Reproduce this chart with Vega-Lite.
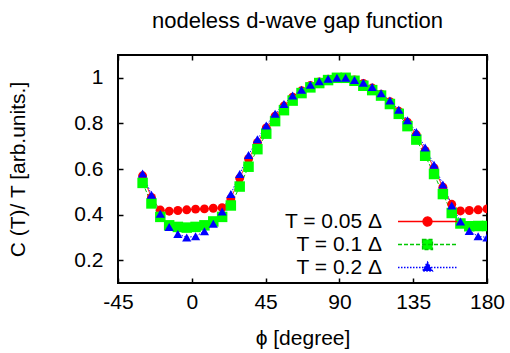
{
  "$schema": "https://vega.github.io/schema/vega-lite/v6.json",
  "autosize": "none",
  "width": 369,
  "height": 228,
  "padding": {"left": 118, "top": 55, "right": 23, "bottom": 70},
  "background": "white",
  "title": {"text": "nodeless d-wave gap function", "font": "Liberation Sans", "fontSize": 22, "fontWeight": "normal", "color": "black", "anchor": "middle", "baseline": "alphabetic", "offset": 4, "dx": -5},
  "config": {
    "view": {"stroke": "black", "strokeWidth": 2},
    "axis": {"domain": false, "grid": false, "labelFlush": false, "labelOverlap": false, "labelFont": "Liberation Sans", "labelFontSize": 21, "labelColor": "black", "titleFont": "Liberation Sans", "titleFontSize": 21, "titleFontWeight": "normal", "titleColor": "black", "tickColor": "black", "tickWidth": 1.5, "tickSize": -5},
    "legend": {
      "orient": "none", "legendX": 200, "legendY": 156, "padding": 0,
      "symbolSize": 100, "symbolOffset": 99, "labelOffset": -56, "labelAlign": "right", "rowPadding": 1,
      "labelFont": "Liberation Sans", "labelFontSize": 21, "labelColor": "black", "symbolStrokeWidth": 1.3, "symbolOpacity": 1
    }
  },
  "data": {"values": [
    {"phi": -30.0, "val": 0.57, "series": "T = 0.05 Δ"},
    {"phi": -24.6, "val": 0.475, "series": "T = 0.05 Δ"},
    {"phi": -19.2, "val": 0.42, "series": "T = 0.05 Δ"},
    {"phi": -13.8, "val": 0.415, "series": "T = 0.05 Δ"},
    {"phi": -8.5, "val": 0.418, "series": "T = 0.05 Δ"},
    {"phi": -3.1, "val": 0.421, "series": "T = 0.05 Δ"},
    {"phi": 2.3, "val": 0.424, "series": "T = 0.05 Δ"},
    {"phi": 7.7, "val": 0.425, "series": "T = 0.05 Δ"},
    {"phi": 13.1, "val": 0.428, "series": "T = 0.05 Δ"},
    {"phi": 18.5, "val": 0.43, "series": "T = 0.05 Δ"},
    {"phi": 23.8, "val": 0.47, "series": "T = 0.05 Δ"},
    {"phi": 29.2, "val": 0.56, "series": "T = 0.05 Δ"},
    {"phi": 34.6, "val": 0.645, "series": "T = 0.05 Δ"},
    {"phi": 40.0, "val": 0.715, "series": "T = 0.05 Δ"},
    {"phi": 45.4, "val": 0.78, "series": "T = 0.05 Δ"},
    {"phi": 50.8, "val": 0.832, "series": "T = 0.05 Δ"},
    {"phi": 56.2, "val": 0.876, "series": "T = 0.05 Δ"},
    {"phi": 61.5, "val": 0.915, "series": "T = 0.05 Δ"},
    {"phi": 66.9, "val": 0.943, "series": "T = 0.05 Δ"},
    {"phi": 72.3, "val": 0.966, "series": "T = 0.05 Δ"},
    {"phi": 77.7, "val": 0.982, "series": "T = 0.05 Δ"},
    {"phi": 83.1, "val": 0.994, "series": "T = 0.05 Δ"},
    {"phi": 88.5, "val": 1.0, "series": "T = 0.05 Δ"},
    {"phi": 93.8, "val": 1.0, "series": "T = 0.05 Δ"},
    {"phi": 99.2, "val": 0.99, "series": "T = 0.05 Δ"},
    {"phi": 104.6, "val": 0.975, "series": "T = 0.05 Δ"},
    {"phi": 110.0, "val": 0.955, "series": "T = 0.05 Δ"},
    {"phi": 115.4, "val": 0.928, "series": "T = 0.05 Δ"},
    {"phi": 120.8, "val": 0.895, "series": "T = 0.05 Δ"},
    {"phi": 126.2, "val": 0.853, "series": "T = 0.05 Δ"},
    {"phi": 131.5, "val": 0.805, "series": "T = 0.05 Δ"},
    {"phi": 136.9, "val": 0.75, "series": "T = 0.05 Δ"},
    {"phi": 142.3, "val": 0.68, "series": "T = 0.05 Δ"},
    {"phi": 147.7, "val": 0.605, "series": "T = 0.05 Δ"},
    {"phi": 153.1, "val": 0.52, "series": "T = 0.05 Δ"},
    {"phi": 158.5, "val": 0.445, "series": "T = 0.05 Δ"},
    {"phi": 163.8, "val": 0.416, "series": "T = 0.05 Δ"},
    {"phi": 169.2, "val": 0.418, "series": "T = 0.05 Δ"},
    {"phi": 174.6, "val": 0.421, "series": "T = 0.05 Δ"},
    {"phi": 180.0, "val": 0.425, "series": "T = 0.05 Δ"},
    {"phi": -30.0, "val": 0.539, "series": "T = 0.1 Δ"},
    {"phi": -24.6, "val": 0.449, "series": "T = 0.1 Δ"},
    {"phi": -19.2, "val": 0.39, "series": "T = 0.1 Δ"},
    {"phi": -13.8, "val": 0.353, "series": "T = 0.1 Δ"},
    {"phi": -8.5, "val": 0.346, "series": "T = 0.1 Δ"},
    {"phi": -3.1, "val": 0.343, "series": "T = 0.1 Δ"},
    {"phi": 2.3, "val": 0.346, "series": "T = 0.1 Δ"},
    {"phi": 7.7, "val": 0.353, "series": "T = 0.1 Δ"},
    {"phi": 13.1, "val": 0.37, "series": "T = 0.1 Δ"},
    {"phi": 18.5, "val": 0.39, "series": "T = 0.1 Δ"},
    {"phi": 23.8, "val": 0.44, "series": "T = 0.1 Δ"},
    {"phi": 29.2, "val": 0.523, "series": "T = 0.1 Δ"},
    {"phi": 34.6, "val": 0.61, "series": "T = 0.1 Δ"},
    {"phi": 40.0, "val": 0.687, "series": "T = 0.1 Δ"},
    {"phi": 45.4, "val": 0.755, "series": "T = 0.1 Δ"},
    {"phi": 50.8, "val": 0.81, "series": "T = 0.1 Δ"},
    {"phi": 56.2, "val": 0.858, "series": "T = 0.1 Δ"},
    {"phi": 61.5, "val": 0.9, "series": "T = 0.1 Δ"},
    {"phi": 66.9, "val": 0.933, "series": "T = 0.1 Δ"},
    {"phi": 72.3, "val": 0.958, "series": "T = 0.1 Δ"},
    {"phi": 77.7, "val": 0.977, "series": "T = 0.1 Δ"},
    {"phi": 83.1, "val": 0.99, "series": "T = 0.1 Δ"},
    {"phi": 88.5, "val": 1.0, "series": "T = 0.1 Δ"},
    {"phi": 93.8, "val": 1.0, "series": "T = 0.1 Δ"},
    {"phi": 99.2, "val": 0.987, "series": "T = 0.1 Δ"},
    {"phi": 104.6, "val": 0.965, "series": "T = 0.1 Δ"},
    {"phi": 110.0, "val": 0.946, "series": "T = 0.1 Δ"},
    {"phi": 115.4, "val": 0.922, "series": "T = 0.1 Δ"},
    {"phi": 120.8, "val": 0.885, "series": "T = 0.1 Δ"},
    {"phi": 126.2, "val": 0.842, "series": "T = 0.1 Δ"},
    {"phi": 131.5, "val": 0.788, "series": "T = 0.1 Δ"},
    {"phi": 136.9, "val": 0.729, "series": "T = 0.1 Δ"},
    {"phi": 142.3, "val": 0.658, "series": "T = 0.1 Δ"},
    {"phi": 147.7, "val": 0.578, "series": "T = 0.1 Δ"},
    {"phi": 153.1, "val": 0.49, "series": "T = 0.1 Δ"},
    {"phi": 158.5, "val": 0.407, "series": "T = 0.1 Δ"},
    {"phi": 163.8, "val": 0.361, "series": "T = 0.1 Δ"},
    {"phi": 169.2, "val": 0.349, "series": "T = 0.1 Δ"},
    {"phi": 174.6, "val": 0.35, "series": "T = 0.1 Δ"},
    {"phi": 180.0, "val": 0.35, "series": "T = 0.1 Δ"},
    {"phi": -30.0, "val": 0.58, "series": "T = 0.2 Δ"},
    {"phi": -24.6, "val": 0.487, "series": "T = 0.2 Δ"},
    {"phi": -19.2, "val": 0.404, "series": "T = 0.2 Δ"},
    {"phi": -13.8, "val": 0.346, "series": "T = 0.2 Δ"},
    {"phi": -8.5, "val": 0.315, "series": "T = 0.2 Δ"},
    {"phi": -3.1, "val": 0.3, "series": "T = 0.2 Δ"},
    {"phi": 2.3, "val": 0.305, "series": "T = 0.2 Δ"},
    {"phi": 7.7, "val": 0.327, "series": "T = 0.2 Δ"},
    {"phi": 13.1, "val": 0.36, "series": "T = 0.2 Δ"},
    {"phi": 18.5, "val": 0.414, "series": "T = 0.2 Δ"},
    {"phi": 23.8, "val": 0.49, "series": "T = 0.2 Δ"},
    {"phi": 29.2, "val": 0.578, "series": "T = 0.2 Δ"},
    {"phi": 34.6, "val": 0.661, "series": "T = 0.2 Δ"},
    {"phi": 40.0, "val": 0.73, "series": "T = 0.2 Δ"},
    {"phi": 45.4, "val": 0.791, "series": "T = 0.2 Δ"},
    {"phi": 50.8, "val": 0.842, "series": "T = 0.2 Δ"},
    {"phi": 56.2, "val": 0.885, "series": "T = 0.2 Δ"},
    {"phi": 61.5, "val": 0.922, "series": "T = 0.2 Δ"},
    {"phi": 66.9, "val": 0.948, "series": "T = 0.2 Δ"},
    {"phi": 72.3, "val": 0.97, "series": "T = 0.2 Δ"},
    {"phi": 77.7, "val": 0.985, "series": "T = 0.2 Δ"},
    {"phi": 83.1, "val": 0.996, "series": "T = 0.2 Δ"},
    {"phi": 88.5, "val": 1.0, "series": "T = 0.2 Δ"},
    {"phi": 93.8, "val": 1.0, "series": "T = 0.2 Δ"},
    {"phi": 99.2, "val": 0.99, "series": "T = 0.2 Δ"},
    {"phi": 104.6, "val": 0.978, "series": "T = 0.2 Δ"},
    {"phi": 110.0, "val": 0.96, "series": "T = 0.2 Δ"},
    {"phi": 115.4, "val": 0.932, "series": "T = 0.2 Δ"},
    {"phi": 120.8, "val": 0.9, "series": "T = 0.2 Δ"},
    {"phi": 126.2, "val": 0.86, "series": "T = 0.2 Δ"},
    {"phi": 131.5, "val": 0.814, "series": "T = 0.2 Δ"},
    {"phi": 136.9, "val": 0.762, "series": "T = 0.2 Δ"},
    {"phi": 142.3, "val": 0.694, "series": "T = 0.2 Δ"},
    {"phi": 147.7, "val": 0.619, "series": "T = 0.2 Δ"},
    {"phi": 153.1, "val": 0.532, "series": "T = 0.2 Δ"},
    {"phi": 158.5, "val": 0.44, "series": "T = 0.2 Δ"},
    {"phi": 163.8, "val": 0.37, "series": "T = 0.2 Δ"},
    {"phi": 169.2, "val": 0.328, "series": "T = 0.2 Δ"},
    {"phi": 174.6, "val": 0.305, "series": "T = 0.2 Δ"},
    {"phi": 180.0, "val": 0.3, "series": "T = 0.2 Δ"}
  ]},
  "resolve": {"axis": {"x": "independent", "y": "independent"}},
  "layer": [
    {
      "mark": {"type": "line", "strokeWidth": 1, "clip": true},
      "encoding": {
        "x": {"field": "phi", "type": "quantitative", "scale": {"domain": [-45, 180], "nice": false, "zero": false},
              "axis": {"orient": "top", "values": [-45, 0, 45, 90, 135, 180], "labels": false, "title": null}},
        "y": {"field": "val", "type": "quantitative", "scale": {"domain": [0.1, 1.1], "nice": false, "zero": false},
              "axis": {"orient": "right", "values": [0.2, 0.4, 0.6, 0.8, 1.0], "labels": false, "title": null}},
        "stroke": {"field": "series", "type": "nominal", "title": null, "scale": {"domain": ["T = 0.05 Δ", "T = 0.1 Δ", "T = 0.2 Δ"], "range": ["#ff0000", "#00c800", "#0000ff"]}},
        "strokeDash": {"field": "series", "type": "nominal", "title": null, "scale": {"domain": ["T = 0.05 Δ", "T = 0.1 Δ", "T = 0.2 Δ"], "range": [[1, 0], [4, 2], [1.5, 1.5]]}}
      }
    },
    {
      "transform": [{"filter": {"field": "series", "equal": "T = 0.05 Δ"}}],
      "mark": {"type": "point", "filled": true, "opacity": 1, "shape": "circle", "size": 80, "clip": true},
      "encoding": {
        "x": {"field": "phi", "type": "quantitative",
              "axis": {"orient": "bottom", "values": [-45, 0, 45, 90, 135, 180], "labelExpr": "'' + datum.value", "labelPadding": 13, "title": "ϕ [degree]", "titleBaseline": "alphabetic", "titleY": 61}},
        "y": {"field": "val", "type": "quantitative",
              "axis": {"orient": "left", "values": [0.2, 0.4, 0.6, 0.8, 1.0], "labelExpr": "'' + datum.value", "labelPadding": 20, "title": "C (T)/ T [arb.units.]", "titleAngle": -90, "titleBaseline": "alphabetic", "titleX": -94, "titleY": 114}},
        "color": {"field": "series", "type": "nominal", "title": null, "scale": {"range": ["#ff0000", "#00ff00", "#0000ff"]}, "legend": null}
      }
    },
    {
      "transform": [{"filter": {"field": "series", "equal": "T = 0.1 Δ"}}],
      "mark": {"type": "point", "filled": true, "opacity": 1, "shape": "square", "size": 110, "clip": true},
      "encoding": {
        "x": {"field": "phi", "type": "quantitative", "axis": null},
        "y": {"field": "val", "type": "quantitative", "axis": null},
        "color": {"field": "series", "type": "nominal", "title": null, "legend": null}
      }
    },
    {
      "transform": [{"filter": {"field": "series", "equal": "T = 0.2 Δ"}}],
      "mark": {"type": "point", "filled": true, "opacity": 1, "shape": "triangle-up", "size": 85, "clip": true},
      "encoding": {
        "x": {"field": "phi", "type": "quantitative", "axis": null},
        "y": {"field": "val", "type": "quantitative", "axis": null},
        "color": {"field": "series", "type": "nominal", "title": null, "legend": null}
      }
    },
    {
      "transform": [{"filter": {"field": "phi", "gt": 1000}}],
      "mark": {"type": "point", "filled": true, "opacity": 1, "strokeWidth": 1},
      "encoding": {
        "x": {"field": "phi", "type": "quantitative", "axis": null},
        "y": {"field": "val", "type": "quantitative", "axis": null},
        "fill": {"field": "series", "type": "nominal", "title": null, "scale": {"domain": ["T = 0.05 Δ", "T = 0.1 Δ", "T = 0.2 Δ"], "range": ["#ff0000", "#00ff00", "#0000ff"]}},
        "stroke": {"field": "series", "type": "nominal", "title": null},
        "shape": {"field": "series", "type": "nominal", "title": null, "scale": {"domain": ["T = 0.05 Δ", "T = 0.1 Δ", "T = 0.2 Δ"], "range": ["M-5.9,0H5.9M-0.9,0A0.9,0.9,0,1,1,0.9,0A0.9,0.9,0,1,1,-0.9,0Z", "M-5.9,0H5.9M-1,-1H1V1H-1Z", "M-5.9,0H5.9M0,-1.1L1,0.7H-1Z"]}}
      }
    }
  ]
}
